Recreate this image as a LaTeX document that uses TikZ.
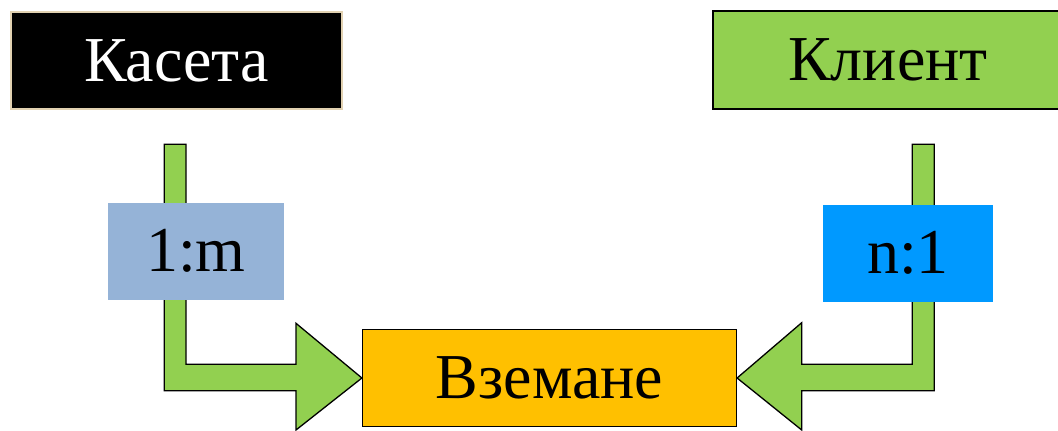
\documentclass[tikz,border=0pt]{standalone}
\usepackage{fontspec}
\setmainfont{Liberation Serif}
\definecolor{tanline}{RGB}{226,210,178}
\definecolor{arrgreen}{RGB}{146,208,80}
\definecolor{orangey}{RGB}{255,192,0}
\definecolor{paleblue}{RGB}{149,179,215}
\definecolor{brightblue}{RGB}{0,153,255}
\begin{document}
\begin{tikzpicture}[x=1pt,y=-1pt,
  box/.style={draw, line width=1.2pt, inner sep=0pt, font=\fontsize{64}{70}\selectfont},
  lbl/.style={inner sep=0pt, font=\fontsize{64}{70}\selectfont},
  bigarrow/.style={fill=arrgreen, draw=black, line width=1.3pt, line join=miter}]
\useasboundingbox (0,0) rectangle (1058,431);
\clip (0,0) rectangle (1058,431);
% boxes
\node[box, draw=tanline, fill=black, text=white, minimum width=331pt, minimum height=97pt] (kas) at (176.5,60.5) {Касета};
\node[box, fill=arrgreen, minimum width=350pt, minimum height=98pt] (kli) at (888,60) {Клиент};
\node[box, fill=orangey, minimum width=374pt, minimum height=97pt] (vze) at (549.5,378) {Вземане};
% arrow coordinates
\coordinate (lt) at (vze.west);
\coordinate (rt) at (vze.east);
% left bent arrow
\draw[bigarrow] (164.3,144.3) -- (186,144.3) -- (186,364.3) -- (296,364.3) -- (296,323.3)
  -- (lt) -- (296,430) -- (296,390.7) -- (164.3,390.7) -- cycle;
% right bent arrow
\draw[bigarrow] (934.3,144.3) -- (912.3,144.3) -- (912.3,364.3) -- (801.7,364.3) -- (801.7,322.7)
  -- (rt) -- (801.7,430) -- (801.7,390.7) -- (934.3,390.7) -- cycle;
% cardinality labels
\node[lbl, fill=paleblue, minimum width=176.3pt, minimum height=97.3pt] (lm) at (195.8,251.3) {1:m};
\node[lbl, fill=brightblue, minimum width=170pt, minimum height=96.7pt] (n1) at (908,253.3) {n:1};
\end{tikzpicture}
\end{document}
